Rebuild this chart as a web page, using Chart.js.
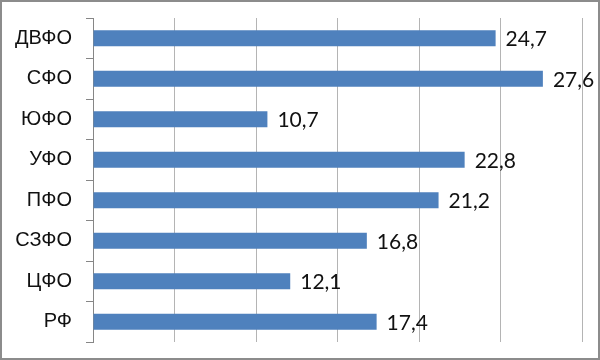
<!DOCTYPE html>
<html>
<head>
<meta charset="utf-8">
<script src="https://cdn.jsdelivr.net/npm/chart.js@4"></script>
<style>
html,body{margin:0;padding:0;background:#fff;}
#wrap{position:relative;width:600px;height:360px;}
#c{position:absolute;left:0;top:0;}
#frame{position:absolute;left:0;top:0;width:600px;height:360px;box-sizing:border-box;border:2px solid #8c8c8c;pointer-events:none;}
</style>
</head>
<body>
<div id="wrap">
<canvas id="c" width="600" height="360"></canvas>
<div id="frame"></div>
</div>
<script>
const categories = ["ДВФО", "СФО", "ЮФО", "УФО", "ПФО", "СЗФО", "ЦФО", "РФ"];
const values = [24.7, 27.6, 10.7, 22.8, 21.2, 16.8, 12.1, 17.4];
const xTicks = [0, 5, 10, 15, 20, 25, 30];

const labelPlugin = {
  id: 'valueLabels',
  afterDatasetsDraw(chart) {
    const ctx = chart.ctx;
    const meta = chart.getDatasetMeta(0);
    ctx.save();
    ctx.font = '21px Lato';
    ctx.fillStyle = '#111';
    ctx.textAlign = 'left';
    ctx.textBaseline = 'middle';
    meta.data.forEach((bar, i) => {
      const txt = values[i].toFixed(1).replace('.', ',');
      ctx.fillText(txt, bar.x + 10, bar.y + 1);
    });
    ctx.restore();
  }
};

new Chart(document.getElementById('c'), {
  type: 'bar',
  data: {
    labels: categories,
    datasets: [{
      data: values,
      backgroundColor: '#4f81bd',
      borderWidth: 0,
      barPercentage: 0.4,
      categoryPercentage: 1.0
    }]
  },
  options: {
    indexAxis: 'y',
    responsive: false,
    animation: false,
    layout: { padding: { top: 18, right: 18, bottom: 18, left: 0 } },
    plugins: { legend: { display: false }, tooltip: { enabled: false } },
    scales: {
      x: {
        min: xTicks[0],
        max: xTicks[xTicks.length - 1],
        afterBuildTicks(scale) { scale.ticks = xTicks.map(v => ({ value: v })); },
        ticks: { display: false },
        grid: { color: '#b4b4b4', lineWidth: 1, drawTicks: false },
        border: { display: false }
      },
      y: {
        afterFit(scale) { scale.width = 93; scale.paddingTop = 0; scale.paddingBottom = 0; },
        ticks: { color: '#111', font: { family: 'Liberation Sans', size: 20 }, padding: 14 },
        grid: { drawOnChartArea: false, color: '#868686', tickLength: 7, offset: true },
        border: { display: true, color: '#868686', width: 1 }
      }
    }
  },
  plugins: [labelPlugin]
});
</script>
</body>
</html>
